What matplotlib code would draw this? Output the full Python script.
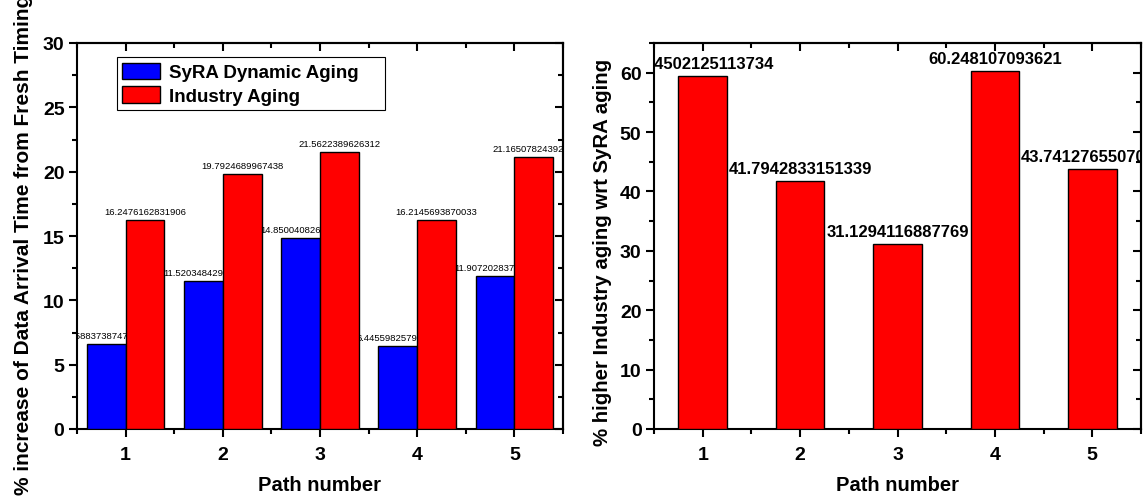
import matplotlib
matplotlib.use("Agg")
import matplotlib.pyplot as plt
import matplotlib.transforms as mtransforms
from matplotlib.ticker import MultipleLocator
import numpy as np

plt.rcParams['font.family'] = ['Liberation Sans', 'DejaVu Sans']

paths = [1, 2, 3, 4, 5]
syra_dynamic = [6.5883738747922, 11.5203484290144, 14.8500408260118, 6.44559825793415, 11.9072028371566]
industry = [16.2476162831906, 19.7924689967438, 21.5622389626312, 16.2145693870033, 21.1650782439238]
pct_higher = [59.4502125113734, 41.7942833151339, 31.1294116887769, 60.248107093621, 43.7412765507046]

fig = plt.figure(figsize=(11.46, 5.02), dpi=100)
W, H = 1146, 502
axL = fig.add_axes([77 / W, 1 - 430 / H, (563 - 77) / W, (430 - 44) / H])
axR = fig.add_axes([654 / W, 1 - 430 / H, (1141 - 654) / W, (430 - 44) / H])


def style(ax, ymaj, ymin):
    for s in ax.spines.values():
        s.set_linewidth(1.5)
    ax.xaxis.set_major_locator(MultipleLocator(1))
    ax.xaxis.set_minor_locator(MultipleLocator(0.5))
    ax.yaxis.set_major_locator(MultipleLocator(ymaj))
    ax.yaxis.set_minor_locator(MultipleLocator(ymin))
    ax.tick_params(which='both', direction='out', width=1.5, top=False, right=False)
    ax.tick_params(which='major', length=6, labelsize=14)
    ax.tick_params(axis='x', which='major', pad=6)
    ax.tick_params(axis='y', which='major', pad=3)
    ax.tick_params(which='minor', length=3.5)
    for lab in ax.get_xticklabels() + ax.get_yticklabels():
        lab.set_fontweight('bold')
    # inward ticks on top and right spines
    sec_x = ax.secondary_xaxis('top')
    sec_x.xaxis.set_major_locator(MultipleLocator(1))
    sec_x.xaxis.set_minor_locator(MultipleLocator(0.5))
    sec_x.tick_params(which='both', direction='in', width=1.5, labeltop=False)
    sec_x.tick_params(which='major', length=6)
    sec_x.tick_params(which='minor', length=3.5)
    sec_x.spines['top'].set_linewidth(1.5)
    sec_y = ax.secondary_yaxis('right')
    sec_y.yaxis.set_major_locator(MultipleLocator(ymaj))
    sec_y.yaxis.set_minor_locator(MultipleLocator(ymin))
    sec_y.tick_params(which='both', direction='in', width=1.5, labelright=False)
    sec_y.tick_params(which='major', length=6)
    sec_y.tick_params(which='minor', length=3.5)
    sec_y.spines['right'].set_linewidth(1.5)


x = np.array(paths, dtype=float)

# Left panel
w = 0.4
axL.bar(x - w / 2, syra_dynamic, width=w, color='#0000ff', edgecolor='black', linewidth=1, zorder=3, label='SyRA Dynamic Aging')
axL.bar(x + w / 2, industry, width=w, color='#ff0000', edgecolor='black', linewidth=1, zorder=3, label='Industry Aging')
axL.set_xlim(0.5, 5.5)
axL.set_ylim(0, 30)
style(axL, 5, 2.5)
offL = mtransforms.offset_copy(axL.transData, fig=fig, y=4, units='dots')
for xi, v in zip(x - w / 2, syra_dynamic):
    axL.text(xi, v, f"{v:.15g}", transform=offL, ha='center', va='bottom', fontsize=6.8, zorder=1, clip_on=True)
for xi, v in zip(x + w / 2, industry):
    axL.text(xi, v, f"{v:.15g}", transform=offL, ha='center', va='bottom', fontsize=6.8, zorder=1, clip_on=True)
axL.set_xlabel('Path number', fontsize=14.5, fontweight='bold', labelpad=9)
axL.set_ylabel('% increase of Data Arrival Time from Fresh Timing', fontsize=15, fontweight='bold', labelpad=7)
axL.yaxis.label.set_y(0.479)
leg = axL.legend(loc='upper left', bbox_to_anchor=(0.082, 0.5, 0.552, 0.464), mode='expand', borderaxespad=0,
                 prop={'weight': 'bold', 'size': 13.5}, fancybox=False, framealpha=1,
                 edgecolor='black', handlelength=2.0, handleheight=1.0, labelspacing=0.25,
                 handletextpad=0.5, borderpad=0.3)
leg.get_frame().set_linewidth(0.8)

# Right panel
axR.bar(x, pct_higher, width=0.5, color='#ff0000', edgecolor='black', linewidth=1, zorder=3)
axR.set_xlim(0.5, 5.5)
axR.set_ylim(0, 65)
style(axR, 10, 5)
offR = mtransforms.offset_copy(axR.transData, fig=fig, y=5, units='dots')
for xi, v in zip(x, pct_higher):
    axR.text(xi, v, f"{v:.15g}", transform=offR, ha='center', va='bottom', fontsize=12, fontweight='bold', zorder=1, clip_on=True)
axR.set_xlabel('Path number', fontsize=14.5, fontweight='bold', labelpad=9)
axR.set_ylabel('% higher Industry aging wrt SyRA aging', fontsize=14.7, fontweight='bold', labelpad=6)
axR.yaxis.label.set_y(0.461)

fig.savefig('out.png', dpi=100)
